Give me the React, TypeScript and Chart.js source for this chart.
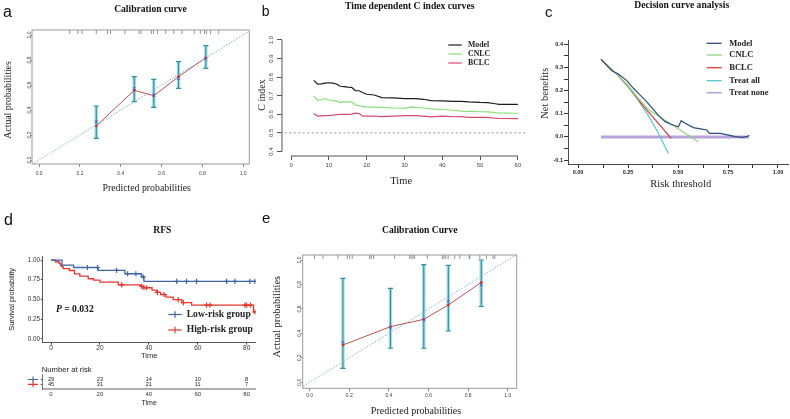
import { useEffect, useRef } from 'react';
import { Chart, registerables } from 'chart.js';

Chart.register(...registerables);

const SERIF = '"Liberation Serif", "Times New Roman", serif';
const SANS = '"Liberation Sans", Arial, sans-serif';

// ---------------- a: calibration curve ----------------
const A_PRED = [0.28, 0.466, 0.562, 0.683, 0.817];
const A_OBS = [0.272, 0.558, 0.514, 0.667, 0.818];
const A_BIAS = [0.306, 0.572, 0.52, 0.651, 0.81];
const A_LO = [0.173, 0.467, 0.421, 0.573, 0.733];
const A_HI = [0.432, 0.667, 0.645, 0.787, 0.915];
const A_RUG = [0.15, 0.19, 0.21, 0.28, 0.335, 0.35, 0.42, 0.49, 0.5, 0.55, 0.56, 0.58, 0.62, 0.66, 0.7, 0.76, 0.79, 0.81, 0.82, 0.84, 0.88];
const PROB_TICKS = [0, 0.2, 0.4, 0.6, 0.8, 1.0];
const PROB_TICK_LABELS = ['0.0', '0.2', '0.4', '0.6', '0.8', '1.0'];
const IDEAL_LINE = [-0.2, 1.2];

// ---------------- b: time dependent C index ----------------
const B_TIME = [6, 7, 8, 9, 10, 11, 12, 13, 14, 15, 16, 17, 18, 19, 20, 22, 24, 27, 30, 32, 33, 35, 37, 40, 43, 45, 47, 50, 52, 54, 55, 60];
const B_MODEL = [0.783, 0.762, 0.764, 0.768, 0.77, 0.768, 0.763, 0.751, 0.749, 0.746, 0.745, 0.728, 0.727, 0.716, 0.708, 0.704, 0.69, 0.689, 0.685, 0.685, 0.685, 0.681, 0.674, 0.672, 0.67, 0.67, 0.667, 0.664, 0.663, 0.657, 0.654, 0.654];
const B_CNLC = [0.697, 0.676, 0.677, 0.685, 0.677, 0.674, 0.672, 0.663, 0.667, 0.667, 0.667, 0.65, 0.647, 0.641, 0.64, 0.639, 0.638, 0.634, 0.632, 0.64, 0.638, 0.634, 0.629, 0.626, 0.622, 0.617, 0.616, 0.614, 0.613, 0.609, 0.608, 0.606];
const B_BCLC = [0.604, 0.59, 0.592, 0.593, 0.594, 0.596, 0.599, 0.6, 0.6, 0.6, 0.601, 0.606, 0.604, 0.59, 0.59, 0.591, 0.588, 0.59, 0.593, 0.593, 0.593, 0.59, 0.586, 0.59, 0.587, 0.588, 0.584, 0.584, 0.584, 0.579, 0.578, 0.577];
const B_X_TICKS = [0, 10, 20, 30, 40, 50, 60];
const B_Y_TICKS = [0.4, 0.5, 0.6, 0.7, 0.8, 0.9, 1.0];
const B_Y_LABELS = ['0.4', '0.5', '0.6', '0.7', '0.8', '0.9', '1.0'];
const B_REF_LEVEL = 0.5;
const B_REF_SPAN = [-10, 70];
const B_SERIES = ['Model', 'CNLC', 'BCLC'];

// ---------------- c: decision curve analysis ----------------
const C_MODEL_X = [0.115, 0.169, 0.202, 0.244, 0.277, 0.302, 0.336, 0.366, 0.386, 0.406, 0.436, 0.461, 0.502, 0.516, 0.536, 0.577, 0.619, 0.644, 0.656, 0.711, 0.753, 0.786, 0.82, 0.845, 0.856];
const C_MODEL_Y = [0.335, 0.286, 0.272, 0.243, 0.21, 0.188, 0.159, 0.13, 0.109, 0.09, 0.066, 0.056, 0.044, 0.07, 0.059, 0.04, 0.034, 0.03, 0.015, 0.015, 0.008, 0.001, -0.002, 0.001, 0.007];
const C_CNLC_X = [0.115, 0.2, 0.25, 0.3, 0.352, 0.602];
const C_CNLC_Y = [0.335, 0.266, 0.222, 0.168, 0.118, -0.021];
const C_BCLC_X = [0.115, 0.2, 0.25, 0.3, 0.319, 0.466];
const C_BCLC_Y = [0.335, 0.266, 0.22, 0.163, 0.142, -0.006];
const C_ALL_X = [0.115, 0.2, 0.25, 0.3, 0.35, 0.4, 0.452];
const C_ALL_Y = [0.335, 0.265, 0.216, 0.16, 0.095, 0.019, -0.072];
const C_NONE_X = [0.115, 0.856];
const C_NONE_Y = [0, 0];
const C_X_TICKS = [0, 0.125, 0.25, 0.375, 0.5, 0.625, 0.75, 0.875, 1.0];
const C_X_LABELS = ['0.00', '', '0.25', '', '0.50', '', '0.75', '', '1.00'];
const C_Y_TICKS = [-0.1, -0.05, 0, 0.05, 0.1, 0.15, 0.2, 0.25, 0.3, 0.35, 0.4];
const C_Y_LABELS = ['-0.1', '', '0.0', '', '0.1', '', '0.2', '', '0.3', '', '0.4'];
const C_SERIES = ['Model', 'CNLC', 'BCLC', 'Treat all', 'Treat none'];

// ---------------- d: RFS Kaplan-Meier ----------------
const LOW_T = [0, 4.5, 9.2, 19.3, 30.2, 37.0, 38.0, 84];
const LOW_S = [1, 0.935, 0.905, 0.868, 0.826, 0.785, 0.728, 0.728];
const LOW_CENS = [14.9, 19.0, 26.8, 31.3, 34.7, 37.7, 51.4, 55.4, 59.5, 71.8, 75.2, 81.3, 83.4];
const HIGH_T = [0, 1.8, 3.3, 3.9, 4.4, 5.0, 7.5, 9.6, 11.8, 15.2, 17.4, 20, 27.5, 36.6, 37.7, 41.3, 43.2, 44.8, 47, 50, 53.5, 57.5, 82.8, 84];
const HIGH_S = [1, 0.978, 0.956, 0.934, 0.912, 0.89, 0.867, 0.823, 0.795, 0.762, 0.745, 0.72, 0.684, 0.666, 0.648, 0.619, 0.59, 0.562, 0.53, 0.496, 0.46, 0.428, 0.34, 0.34];
const HIGH_CENS = [28.9, 37.1, 38.0, 39.1, 43.5, 46.2, 52.0, 54.1, 63.6, 65.0, 79.3, 80.0, 81.6, 83.4];
const D_X_TICKS = [0, 20, 40, 60, 80];
const D_Y_TICKS = [0, 0.25, 0.5, 0.75, 1.0];
const D_Y_LABELS = ['0.00', '0.25', '0.50', '0.75', '1.00'];
const D_GROUPS = ['Low-risk group', 'High-risk group'];
const RISK_TIMES = [0, 20, 40, 60, 80];
const RISK_LOW = [29, 23, 14, 10, 8];
const RISK_HIGH = [45, 31, 21, 11, 7];
const RISK_ROWS = [2, 1];

// ---------------- e: calibration curve ----------------
const E_PRED = [0.168, 0.408, 0.576, 0.7, 0.866];
const E_OBS = [0.305, 0.455, 0.515, 0.632, 0.817];
const E_BIAS = [0.327, 0.45, 0.51, 0.66, 0.796];
const E_LO = [0.114, 0.278, 0.278, 0.42, 0.62];
const E_HI = [0.85, 0.768, 0.962, 0.956, 1.0];
const E_RUG = [0.025, 0.067, 0.143, 0.19, 0.202, 0.215, 0.303, 0.311, 0.323, 0.429, 0.505, 0.513, 0.522, 0.53, 0.594, 0.67, 0.678, 0.687, 0.699, 0.732, 0.758, 0.805, 0.808, 0.859, 0.892, 0.925, 0.934];

// ---------------- colours ----------------
const LOW_COLOR = '#4064a8';
const HIGH_COLOR = '#e5372c';

// ---------------- helpers ----------------
type Pt = { x: number; y: number | null };
const pts = (xs: number[], ys: (number | null)[]): Pt[] => xs.map((x, i) => ({ x, y: ys[i] }));
function errorBarPoints(xs: number[], lo: number[], hi: number[]): Pt[] {
  const out: Pt[] = [];
  xs.forEach((x, i) => { out.push({ x, y: lo[i] }, { x, y: hi[i] }, { x, y: null }); });
  return out;
}
function survAt(T: number[], S: number[], t: number) {
  let s = S[0];
  for (let i = 0; i < T.length; i++) if (T[i] <= t) s = S[i];
  return s;
}
function fitTo(size: number, vertical: boolean) {
  return (s: any) => {
    if (vertical) s.width = size; else s.height = size;
    s.paddingLeft = 0; s.paddingRight = 0; s.paddingTop = 0; s.paddingBottom = 0;
  };
}
function setTicks(values: number[]) {
  return (s: any) => { s.ticks = values.map((value) => ({ value })); };
}
const font = (size: number, family: string, weight = '', style = '') => `${style} ${weight} ${size}px ${family}`.trim();

type TextItem = {
  text?: string; parts?: { text: string; font: string }[];
  x: number; y: number; font?: string; color?: string;
  align?: CanvasTextAlign; baseline?: CanvasTextBaseline; rotate?: number;
};
function textPlugin(items: TextItem[]) {
  return {
    id: 'freeText',
    afterDraw(chart: any) {
      const ctx: CanvasRenderingContext2D = chart.ctx;
      for (const it of items) {
        ctx.save();
        ctx.fillStyle = it.color ?? '#111';
        ctx.textBaseline = it.baseline ?? 'alphabetic';
        ctx.translate(it.x, it.y);
        if (it.rotate) ctx.rotate(it.rotate);
        if (it.parts) {
          ctx.textAlign = 'left';
          let x = 0;
          for (const p of it.parts) { ctx.font = p.font; ctx.fillText(p.text, x, 0); x += ctx.measureText(p.text).width; }
        } else {
          ctx.textAlign = it.align ?? 'left';
          ctx.font = it.font ?? font(10, SANS);
          ctx.fillText(it.text ?? '', 0, 0);
        }
        ctx.restore();
      }
    },
  };
}
type LegItem = { label: string; color: string; width: number; cross?: boolean };
function legendPlugin(cfg: { x1: number; x2: number; tx: number; ys: number[]; font: string; color: string; crossR?: number; items: LegItem[] }) {
  return {
    id: 'lineLegend',
    afterDraw(chart: any) {
      const ctx: CanvasRenderingContext2D = chart.ctx;
      ctx.save();
      cfg.items.forEach((it, i) => {
        const y = cfg.ys[i];
        ctx.strokeStyle = it.color; ctx.lineWidth = it.width;
        ctx.beginPath(); ctx.moveTo(cfg.x1, y); ctx.lineTo(cfg.x2, y); ctx.stroke();
        if (it.cross) {
          const cx = (cfg.x1 + cfg.x2) / 2; const r = cfg.crossR ?? 3;
          ctx.beginPath(); ctx.moveTo(cx, y - r); ctx.lineTo(cx, y + r); ctx.stroke();
        }
        ctx.fillStyle = cfg.color; ctx.font = cfg.font; ctx.textAlign = 'left'; ctx.textBaseline = 'middle';
        ctx.fillText(it.label, cfg.tx, y);
      });
      ctx.restore();
    },
  };
}
function boxPlugin(color: string) {
  return {
    id: 'frameBox',
    afterDraw(chart: any) {
      const { ctx, chartArea: a } = chart;
      ctx.save(); ctx.strokeStyle = color; ctx.lineWidth = 1;
      ctx.strokeRect(a.left, a.top, a.right - a.left, a.bottom - a.top);
      ctx.restore();
    },
  };
}
function rugPlugin(values: number[], len: number, color: string) {
  return {
    id: 'rug',
    afterDatasetsDraw(chart: any) {
      const { ctx, chartArea } = chart; const xs = chart.scales.x;
      ctx.save(); ctx.strokeStyle = color; ctx.lineWidth = 0.8; ctx.beginPath();
      for (const v of values) {
        const px = xs.getPixelForValue(v);
        ctx.moveTo(px, chartArea.top); ctx.lineTo(px, chartArea.top + len);
      }
      ctx.stroke(); ctx.restore();
    },
  };
}
function rAxesPlugin(xFrom: number, xTo: number, yFrom: number, yTo: number, color: string) {
  return {
    id: 'rAxes',
    afterDraw(chart: any) {
      const { ctx, chartArea } = chart; const xs = chart.scales.x; const ys = chart.scales.y;
      ctx.save(); ctx.strokeStyle = color; ctx.lineWidth = 1; ctx.beginPath();
      ctx.moveTo(chartArea.left, ys.getPixelForValue(yFrom)); ctx.lineTo(chartArea.left, ys.getPixelForValue(yTo));
      ctx.moveTo(xs.getPixelForValue(xFrom), chartArea.bottom); ctx.lineTo(xs.getPixelForValue(xTo), chartArea.bottom);
      ctx.stroke(); ctx.restore();
    },
  };
}
function riskTablePlugin() {
  return {
    id: 'riskTable',
    afterDraw(chart: any) {
      const ctx: CanvasRenderingContext2D = chart.ctx; const xs = chart.scales.x; const ys = chart.scales.y;
      const rows = [{ vals: RISK_LOW, color: LOW_COLOR }, { vals: RISK_HIGH, color: HIGH_COLOR }];
      ctx.save();
      rows.forEach((r, k) => {
        const y = ys.getPixelForValue(RISK_ROWS[k]);
        ctx.font = font(5.6, SANS); ctx.fillStyle = '#222'; ctx.textAlign = 'center'; ctx.textBaseline = 'middle';
        RISK_TIMES.forEach((t, i) => ctx.fillText(String(r.vals[i]), xs.getPixelForValue(t), y));
        ctx.strokeStyle = r.color; ctx.lineWidth = 1.1;
        ctx.beginPath(); ctx.moveTo(28, y); ctx.lineTo(38, y); ctx.moveTo(33, y - 3); ctx.lineTo(33, y + 3); ctx.stroke();
      });
      ctx.restore();
    },
  };
}

const base = (pad: any) => ({
  responsive: false,
  maintainAspectRatio: false,
  animation: false as const,
  devicePixelRatio: 1,
  events: [] as any[],
  layout: { padding: pad, autoPadding: false },
  plugins: { legend: { display: false }, tooltip: { enabled: false }, title: { display: false } },
});

// ---------------- panel builders ----------------
type CalOpts = {
  pred: number[]; obs: number[]; bias: number[]; lo: number[]; hi: number[]; rug: number[];
  xMin: number; xMax: number; yMin: number; yMax: number;
  pad: any; yW: number; xH: number; xPad: number; yPad: number; texts: TextItem[];
};
function buildCalibration(canvas: HTMLCanvasElement, o: CalOpts) {
  return new Chart(canvas, {
    type: 'line',
    data: {
      datasets: [
        { data: pts(o.pred, o.bias), showLine: false, pointStyle: 'crossRot', pointRadius: 2, pointBorderColor: '#4f63d9', pointBorderWidth: 1, borderColor: '#4f63d9' },
        { data: pts(o.pred, o.obs), borderColor: '#b9564f', borderWidth: 1, pointRadius: 1.3, pointBackgroundColor: '#d2302c', pointBorderWidth: 0 },
        { data: errorBarPoints(o.pred, o.lo, o.hi), borderColor: '#2f8ea0', borderWidth: 1.1, pointStyle: 'line', pointRadius: 2.6, pointBorderColor: '#2f8ea0', pointBorderWidth: 1.1, spanGaps: false },
        { data: errorBarPoints(o.pred, o.lo, o.hi), borderColor: '#a9dde6', borderWidth: 3.5, pointRadius: 0, spanGaps: false },
        { data: pts(IDEAL_LINE, IDEAL_LINE), borderColor: '#7fb7d2', borderWidth: 1, borderDash: [1.5, 1.5], pointRadius: 0 },
      ] as any,
    },
    options: {
      ...base(o.pad),
      scales: {
        x: {
          type: 'linear', min: o.xMin, max: o.xMax, afterFit: fitTo(o.xH, false), afterBuildTicks: setTicks(PROB_TICKS),
          ticks: { autoSkip: false, maxRotation: 0, minRotation: 0, padding: o.xPad, color: '#444', font: { family: SANS, size: 5 }, callback: (_v: any, i: number) => PROB_TICK_LABELS[i] },
          grid: { drawOnChartArea: false, drawTicks: true, tickLength: 3, color: '#8a8a8a' },
          border: { display: false },
        },
        y: {
          type: 'linear', min: o.yMin, max: o.yMax, afterFit: fitTo(o.yW, true), afterBuildTicks: setTicks(PROB_TICKS),
          ticks: { autoSkip: false, minRotation: 90, maxRotation: 90, crossAlign: 'center', padding: o.yPad, color: '#444', font: { family: SANS, size: 5 }, callback: (_v: any, i: number) => PROB_TICK_LABELS[i] },
          grid: { drawOnChartArea: false, drawTicks: true, tickLength: 2, color: '#8a8a8a' },
          border: { display: false },
        },
      },
    } as any,
    plugins: [boxPlugin('#9a9a9a'), rugPlugin(o.rug, 4, '#777'), textPlugin(o.texts)] as any,
  });
}

function buildA(canvas: HTMLCanvasElement) {
  return buildCalibration(canvas, {
    pred: A_PRED, obs: A_OBS, bias: A_BIAS, lo: A_LO, hi: A_HI, rug: A_RUG,
    xMin: -0.035, xMax: 1.03, yMin: -0.032, yMax: 1.04,
    pad: { left: 0, right: 10.7, top: 30, bottom: 6 }, yW: 32, xH: 35, xPad: 3.3, yPad: -3.3,
    texts: [
      { text: 'a', x: 3, y: 16.7, font: font(16, SANS), color: '#111' },
      { text: 'Calibration curve', x: 150.5, y: 12.3, font: font(9.6, SERIF, 'bold'), align: 'center' },
      { text: 'Predicted probabilities', x: 146.7, y: 190.5, font: font(9.8, SERIF), align: 'center', color: '#222' },
      { text: 'Actual probabilities', x: 10.5, y: 100, font: font(9.8, SERIF), align: 'center', rotate: -Math.PI / 2, color: '#222' },
    ],
  });
}

function buildE(canvas: HTMLCanvasElement) {
  return buildCalibration(canvas, {
    pred: E_PRED, obs: E_OBS, bias: E_BIAS, lo: E_LO, hi: E_HI, rug: E_RUG,
    xMin: -0.035, xMax: 1.045, yMin: -0.049, yMax: 1.041,
    pad: { left: 0, right: 11.3, top: 45, bottom: 0.7 }, yW: 40.7, xH: 30, xPad: 1, yPad: -2.3,
    texts: [
      { text: 'e', x: 0, y: 12.7, font: font(15, SANS), color: '#111' },
      { text: 'Calibration Curve', x: 157.7, y: 23.3, font: font(9.6, SERIF, 'bold'), align: 'center' },
      { text: 'Predicted probabilities', x: 154, y: 203.9, font: font(10, SERIF), align: 'center', color: '#222' },
      { text: 'Actual probabilities', x: 17.5, y: 106.7, font: font(10.3, SERIF), align: 'center', rotate: -Math.PI / 2, color: '#222' },
    ],
  });
}

function buildB(canvas: HTMLCanvasElement) {
  const colors = ['#1c1c1c', '#86de72', '#d8476f'];
  return new Chart(canvas, {
    type: 'line',
    data: {
      datasets: [
        { label: B_SERIES[0], data: pts(B_TIME, B_MODEL), borderColor: colors[0], borderWidth: 1.2, pointRadius: 0 },
        { label: B_SERIES[1], data: pts(B_TIME, B_CNLC), borderColor: colors[1], borderWidth: 1.2, pointRadius: 0 },
        { label: B_SERIES[2], data: pts(B_TIME, B_BCLC), borderColor: colors[2], borderWidth: 1.2, pointRadius: 0 },
        { label: 'ref', data: pts(B_REF_SPAN, [B_REF_LEVEL, B_REF_LEVEL]), borderColor: '#a8a8a8', borderWidth: 1.2, borderDash: [2, 2.5], pointRadius: 0 },
      ] as any,
    },
    options: {
      ...base({ left: 0, right: 3, top: 35.5, bottom: 14 }),
      scales: {
        x: {
          type: 'linear', min: -2.4, max: 62.4, afterFit: fitTo(35, false), afterBuildTicks: setTicks(B_X_TICKS),
          ticks: { autoSkip: false, maxRotation: 0, minRotation: 0, padding: 2, color: '#444', font: { family: SANS, size: 6 }, callback: (v: any) => String(v) },
          grid: { drawOnChartArea: false, drawTicks: true, tickLength: 4, color: '#555' },
          border: { display: false },
        },
        y: {
          type: 'linear', min: 0.376, max: 1.024, afterFit: fitTo(28, true), afterBuildTicks: setTicks(B_Y_TICKS),
          ticks: { autoSkip: false, minRotation: 90, maxRotation: 90, crossAlign: 'center', padding: 1.3, color: '#444', font: { family: SANS, size: 6 }, callback: (_v: any, i: number) => B_Y_LABELS[i] },
          grid: { drawOnChartArea: false, drawTicks: true, tickLength: 5, color: '#555' },
          border: { display: false },
        },
      },
    } as any,
    plugins: [
      rAxesPlugin(B_X_TICKS[0], B_X_TICKS[B_X_TICKS.length - 1], B_Y_TICKS[0], B_Y_TICKS[B_Y_TICKS.length - 1], '#555'),
      legendPlugin({ x1: 194.3, x2: 207.7, tx: 214, ys: [45, 54, 63], font: font(7.8, SERIF, 'bold'), color: '#222', items: B_SERIES.map((l, i) => ({ label: l, color: colors[i], width: 1.2 })) }),
      textPlugin([
        { text: 'b', x: 7.7, y: 16, font: font(14, SANS), color: '#111' },
        { text: 'Time dependent C index curves', x: 155.7, y: 9.3, font: font(9.6, SERIF, 'bold'), align: 'center' },
        { text: 'Time', x: 147.2, y: 184, font: font(10.5, SERIF), align: 'center', color: '#222' },
        { text: 'C index', x: 10.9, y: 95, font: font(10, SERIF), align: 'center', rotate: -Math.PI / 2, color: '#222' },
      ]),
    ] as any,
  });
}

function buildC(canvas: HTMLCanvasElement) {
  const colors = ['#2d4b7d', '#92d47c', '#d83a3a', '#55c8c8', '#b9a3da'];
  return new Chart(canvas, {
    type: 'line',
    data: {
      datasets: [
        { label: C_SERIES[0], data: pts(C_MODEL_X, C_MODEL_Y), borderColor: colors[0], borderWidth: 1.2, pointRadius: 0 },
        { label: C_SERIES[1], data: pts(C_CNLC_X, C_CNLC_Y), borderColor: colors[1], borderWidth: 1.2, pointRadius: 0 },
        { label: C_SERIES[2], data: pts(C_BCLC_X, C_BCLC_Y), borderColor: colors[2], borderWidth: 1.2, pointRadius: 0 },
        { label: C_SERIES[3], data: pts(C_ALL_X, C_ALL_Y), borderColor: colors[3], borderWidth: 1.2, pointRadius: 0 },
        { label: C_SERIES[4], data: pts(C_NONE_X, C_NONE_Y), borderColor: colors[4], borderWidth: 3, pointRadius: 0 },
      ] as any,
    },
    options: {
      ...base({ left: 0, right: 2, top: 40, bottom: 6 }),
      scales: {
        x: {
          type: 'linear', min: -0.05, max: 1.05, afterFit: fitTo(35, false), afterBuildTicks: setTicks(C_X_TICKS),
          ticks: { autoSkip: false, maxRotation: 0, minRotation: 0, padding: 1, color: '#222', font: { family: SANS, size: 5.5, weight: 'bold' }, callback: (_v: any, i: number) => C_X_LABELS[i] },
          grid: { drawOnChartArea: false, drawTicks: true, tickLength: 4, color: '#333' },
          border: { display: true, color: '#333', width: 0.9 },
        },
        y: {
          type: 'linear', min: -0.117, max: 0.4186, afterFit: fitTo(38, true), afterBuildTicks: setTicks(C_Y_TICKS),
          ticks: { autoSkip: false, crossAlign: 'near', padding: 1, color: '#222', font: { family: SANS, size: 5.5, weight: 'bold' }, callback: (_v: any, i: number) => C_Y_LABELS[i] },
          grid: { drawOnChartArea: false, drawTicks: true, tickLength: 4, color: '#333' },
          border: { display: true, color: '#333', width: 0.9 },
        },
      },
    } as any,
    plugins: [
      legendPlugin({ x1: 176.7, x2: 191.7, tx: 199.3, ys: [43.3, 55, 67.7, 80.7, 92.7], font: font(8.5, SERIF, 'bold'), color: '#222', items: C_SERIES.map((l, i) => ({ label: l, color: colors[i], width: i === 4 ? 1.6 : 1.3 })) }),
      textPlugin([
        { text: 'c', x: 15, y: 16.7, font: font(15, SANS), color: '#111' },
        { text: 'Decision curve analysis', x: 151.7, y: 8.3, font: font(9.6, SERIF, 'bold'), align: 'center' },
        { text: 'Risk threshold', x: 150.8, y: 187.3, font: font(10.5, SERIF), align: 'center', color: '#222' },
        { text: 'Net benefits', x: 18.3, y: 93.3, font: font(10.5, SERIF), align: 'center', rotate: -Math.PI / 2, color: '#222' },
      ]),
    ] as any,
  });
}

function buildD(canvas: HTMLCanvasElement) {
  return new Chart(canvas, {
    type: 'line',
    data: {
      datasets: [
        { label: 'low censor', data: LOW_CENS.map((t) => ({ x: t, y: survAt(LOW_T, LOW_S, t) })), showLine: false, pointStyle: 'cross', pointRadius: 2.6, pointBorderColor: LOW_COLOR, pointBorderWidth: 1.2, borderColor: LOW_COLOR },
        { label: 'high censor', data: HIGH_CENS.map((t) => ({ x: t, y: survAt(HIGH_T, HIGH_S, t) })), showLine: false, pointStyle: 'cross', pointRadius: 2.6, pointBorderColor: HIGH_COLOR, pointBorderWidth: 1.2, borderColor: HIGH_COLOR },
        { label: D_GROUPS[0], data: pts(LOW_T, LOW_S), stepped: 'before', borderColor: LOW_COLOR, borderWidth: 1.3, pointRadius: 0 },
        { label: D_GROUPS[1], data: pts(HIGH_T, HIGH_S), stepped: 'before', borderColor: HIGH_COLOR, borderWidth: 1.3, pointRadius: 0 },
      ] as any,
    },
    options: {
      ...base({ left: 0, right: 6.3, top: 46.1, bottom: 2.3 }),
      scales: {
        x: {
          type: 'linear', min: -3.4, max: 83.7, afterFit: fitTo(20, false), afterBuildTicks: setTicks(D_X_TICKS),
          ticks: { autoSkip: false, maxRotation: 0, minRotation: 0, padding: 0, color: '#333', font: { family: SANS, size: 6.5 }, callback: (v: any) => String(v) },
          grid: { drawOnChartArea: false, drawTicks: true, tickLength: 2, color: '#444' },
          border: { display: true, color: '#444', width: 0.9 },
          title: { display: true, text: 'Time', color: '#222', font: { family: SANS, size: 7.5 }, padding: { top: 0, bottom: 2.2 } },
        },
        y: {
          type: 'linear', min: -0.05, max: 1.05, afterFit: fitTo(42.7, true), afterBuildTicks: setTicks(D_Y_TICKS),
          ticks: { autoSkip: false, crossAlign: 'near', padding: 0.7, color: '#333', font: { family: SANS, size: 6.3 }, callback: (_v: any, i: number) => D_Y_LABELS[i] },
          grid: { drawOnChartArea: false, drawTicks: true, tickLength: 2, color: '#444' },
          border: { display: true, color: '#444', width: 0.9 },
          title: { display: true, text: 'Survival probability', color: '#222', font: { family: SANS, size: 7.5 }, padding: { top: 7.5, bottom: 0 } },
        },
      },
    } as any,
    plugins: [
      legendPlugin({ x1: 168.3, x2: 181.7, tx: 186.7, ys: [104.5, 120], font: font(9.6, SERIF, 'bold'), color: '#222', crossR: 3.2, items: [
        { label: D_GROUPS[0], color: LOW_COLOR, width: 1.2, cross: true },
        { label: D_GROUPS[1], color: HIGH_COLOR, width: 1.2, cross: true },
      ] }),
      textPlugin([
        { text: 'd', x: 4, y: 15, font: font(16, SANS), color: '#111' },
        { text: 'RFS', x: 162.3, y: 23.3, font: font(9.6, SERIF, 'bold'), align: 'center' },
        { parts: [{ text: 'P', font: font(9.6, SERIF, 'bold', 'italic') }, { text: ' = 0.032', font: font(9.6, SERIF, 'bold') }], x: 56, y: 101.7 },
      ]),
    ] as any,
  });
}

function buildTable(canvas: HTMLCanvasElement) {
  return new Chart(canvas, {
    type: 'line',
    data: { datasets: [] },
    options: {
      ...base({ left: 0, right: 6.3, top: 11.5, bottom: 9.7 }),
      scales: {
        x: {
          type: 'linear', min: -3.4, max: 83.7, afterFit: fitTo(20, false), afterBuildTicks: setTicks(RISK_TIMES),
          ticks: { autoSkip: false, maxRotation: 0, minRotation: 0, padding: 1.4, color: '#333', font: { family: SANS, size: 6 }, callback: (v: any) => String(v) },
          grid: { display: true, drawOnChartArea: false, drawTicks: false, tickLength: 0, color: '#b0b0b0' },
          border: { display: true, color: '#b0b0b0', width: 2 },
          title: { display: true, text: 'Time', color: '#222', font: { family: SANS, size: 7 }, padding: { top: 0, bottom: 1.8 } },
        },
        y: {
          type: 'linear', min: 0, max: 3, afterFit: fitTo(42.7, true), afterBuildTicks: setTicks(RISK_ROWS),
          ticks: { display: false },
          grid: { drawOnChartArea: false, drawTicks: true, tickLength: 2, color: '#555' },
          border: { display: true, color: '#555', width: 0.8 },
        },
      },
    } as any,
    plugins: [
      riskTablePlugin(),
      textPlugin([{ text: 'Number at risk', x: 41.7, y: 7, font: font(7.7, SANS), baseline: 'middle', color: '#222' }]),
    ] as any,
  });
}

type Box = { left: number; top: number; w: number; h: number };
function ChartCanvas({ box, build }: { box: Box; build: (c: HTMLCanvasElement) => Chart }) {
  const ref = useRef<HTMLCanvasElement>(null);
  useEffect(() => {
    const chart = build(ref.current as HTMLCanvasElement);
    return () => chart.destroy();
  }, []);
  return (
    <canvas ref={ref} width={box.w} height={box.h}
      style={{ position: 'absolute', left: box.left, top: box.top, width: box.w, height: box.h, display: 'block' }} />
  );
}

export default function App() {
  return (
    <div style={{ position: 'fixed', left: 0, top: 0, width: 790, height: 419, background: '#fff', overflow: 'hidden' }}>
      <ChartCanvas box={{ left: 0, top: 0, w: 260, h: 205 }} build={buildA} />
      <ChartCanvas box={{ left: 254, top: 0, w: 276, h: 205 }} build={buildB} />
      <ChartCanvas box={{ left: 530, top: 0, w: 260, h: 205 }} build={buildC} />
      <ChartCanvas box={{ left: 0, top: 210, w: 262, h: 155 }} build={buildD} />
      <ChartCanvas box={{ left: 0, top: 363, w: 262, h: 56 }} build={buildTable} />
      <ChartCanvas box={{ left: 262, top: 210, w: 266, h: 209 }} build={buildE} />
    </div>
  );
}
